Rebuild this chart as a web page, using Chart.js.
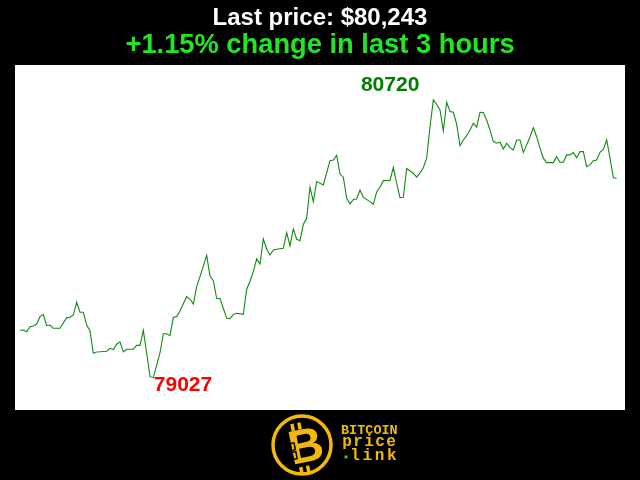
<!DOCTYPE html>
<html>
<head>
<meta charset="utf-8">
<script src="https://cdn.jsdelivr.net/npm/chart.js@4"></script>
<style>
  html, body { margin: 0; padding: 0; background: #000; }
  #wrap { width: 640px; height: 480px; }
</style>
</head>
<body>
<div id="wrap"><canvas id="c" width="640" height="480"></canvas></div>
<script>
const titleLine1 = "Last price: $80,243";
const titleLine2 = "+1.15% change in last 3 hours";
const maxLabel = "80720";
const minLabel = "79027";

const minutes = [0,1,2,3,4,5,6,7,8,9,10,12,14,15,16,17,18,19,20,21,22,23,24,26,27,28,29,30,31,32,34,35,36,37,38,39,40,41,42,43,44,45,46,47,48,50,51,52,53,54,56,57,58,59,60,62,63,64,65,67,68,69,70,71,72,73,74,75,76,77,79,80,81,82,83,84,85,86,87,88,89,91,93,94,95,96,97,98,99,100,101,102,103,105,106,107,108,109,111,112,113,114,115,116,118,119,120,121,122,123,124,125,126,127,128,129,130,131,132,133,134,135,136,137,138,139,140,141,142,143,144,145,146,147,148,149,150,151,152,153,154,155,156,157,158,160,161,162,163,164,165,166,167,168,169,170,171,172,173,174,175,176,177,178,179];
const prices = [79316,79318,79307,79338,79342,79354,79399,79413,79344,79348,79328,79328,79393,79395,79409,79487,79426,79426,79348,79313,79176,79184,79185,79188,79206,79198,79231,79245,79184,79200,79200,79224,79224,79316,79176,79033,79027,79104,79179,79295,79295,79283,79395,79399,79435,79521,79505,79476,79582,79643,79773,79647,79618,79511,79509,79389,79387,79413,79420,79413,79566,79615,79673,79751,79720,79873,79810,79775,79805,79810,79816,79911,79830,79934,79871,79862,79962,79998,80188,80100,80223,80202,80350,80354,80383,80268,80249,80122,80086,80113,80116,80171,80126,80100,80084,80159,80188,80228,80229,80308,80212,80124,80127,80302,80273,80250,80275,80307,80365,80557,80720,80694,80659,80531,80706,80649,80645,80572,80441,80476,80502,80537,80578,80554,80645,80643,80598,80537,80466,80456,80462,80421,80456,80429,80415,80476,80476,80400,80446,80496,80551,80496,80426,80365,80338,80338,80374,80340,80340,80385,80385,80399,80368,80405,80405,80313,80324,80350,80354,80401,80419,80476,80365,80246,80243];

const points = minutes.map((m, i) => ({ x: m, y: prices[i] }));

const decor = {
  id: 'decor',
  beforeDraw(chart) {
    const ctx = chart.ctx;
    ctx.save();
    ctx.fillStyle = '#000';
    ctx.fillRect(0, 0, 640, 480);
    const a = chart.chartArea;
    ctx.fillStyle = '#fff';
    ctx.fillRect(a.left, a.top, a.right - a.left, a.bottom - a.top);
    ctx.restore();
  },
  afterDraw(chart) {
    const ctx = chart.ctx;
    const xs = chart.scales.x, ys = chart.scales.y;
    ctx.save();
    // titles
    ctx.textAlign = 'center';
    ctx.textBaseline = 'alphabetic';
    ctx.fillStyle = '#ffffff';
    ctx.font = 'bold 24px "Liberation Sans", Arial, sans-serif';
    ctx.fillText(titleLine1, 320, 25);
    ctx.fillStyle = '#22e622';
    ctx.font = 'bold 27.3px "Liberation Sans", Arial, sans-serif';
    ctx.fillText(titleLine2, 320, 53);

    // max/min labels
    let iMax = 0, iMin = 0;
    prices.forEach((p, i) => { if (p > prices[iMax]) iMax = i; if (p < prices[iMin]) iMin = i; });
    const mxX = xs.getPixelForValue(minutes[iMax]), mxY = ys.getPixelForValue(prices[iMax]);
    const mnX = xs.getPixelForValue(minutes[iMin]), mnY = ys.getPixelForValue(prices[iMin]);
    ctx.font = 'bold 21px "Liberation Sans", Arial, sans-serif';
    ctx.fillStyle = '#008000';
    ctx.textAlign = 'right';
    ctx.fillText(maxLabel, mxX - 14, mxY - 9);
    ctx.fillStyle = '#ff0000';
    ctx.textAlign = 'left';
    ctx.fillText(minLabel, mnX + 0.5, mnY + 13.5);

    // logo
    const gold = '#f2b90c';
    ctx.strokeStyle = gold;
    ctx.lineWidth = 3.5;
    ctx.beginPath();
    ctx.arc(302, 445, 29, 0, Math.PI * 2);
    ctx.stroke();
    ctx.save();
    ctx.translate(304, 447);
    ctx.rotate(-0.2);
    ctx.fillStyle = gold;
    ctx.font = 'bold 48px "Liberation Sans", Arial, sans-serif';
    ctx.textAlign = 'center';
    ctx.textBaseline = 'middle';
    ctx.fillText('B', 2, 2);
    ctx.fillRect(-9, -25, 3.5, 7);
    ctx.fillRect(-2, -25, 3.5, 7);
    ctx.fillRect(-9, 19, 3.5, 7);
    ctx.fillRect(-2, 19, 3.5, 7);
    ctx.strokeStyle = '#000';
    ctx.lineWidth = 1.5;
    ctx.strokeRect(-13, -6, 4, 7);
    ctx.strokeRect(-13, 3, 4, 7);
    ctx.restore();

    ctx.fillStyle = gold;
    ctx.textAlign = 'center';
    const drawSpaced = (txt, x0, pitch, y) => {
      for (let i = 0; i < txt.length; i++) ctx.fillText(txt[i], x0 + pitch * i + pitch / 2, y);
    };
    ctx.font = 'bold 13.5px "Liberation Mono", "DejaVu Sans Mono", monospace';
    drawSpaced('BITCOIN', 341, 8.1, 433.5);
    ctx.font = 'bold 16px "Liberation Mono", "DejaVu Sans Mono", monospace';
    drawSpaced('price', 341.5, 11, 446);
    drawSpaced('link', 349, 12.2, 460);
    ctx.fillStyle = '#22cc22';
    ctx.fillRect(344.5, 455.5, 3, 3);
    ctx.restore();
  }
};

new Chart(document.getElementById('c'), {
  type: 'line',
  data: {
    datasets: [{
      data: points,
      borderColor: '#128a12',
      borderWidth: 1.1,
      pointRadius: 0,
      tension: 0,
      fill: false
    }]
  },
  options: {
    responsive: false,
    animation: false,
    devicePixelRatio: 1,
    layout: { padding: { left: 15, top: 65, right: 15, bottom: 70 } },
    plugins: { legend: { display: false }, tooltip: { enabled: false }, title: { display: false } },
    scales: {
      x: { type: 'linear', display: false, min: -1.5, max: 181.5 },
      y: { type: 'linear', display: false, min: 78830, max: 80933 }
    }
  },
  plugins: [decor]
});
</script>
</body>
</html>
